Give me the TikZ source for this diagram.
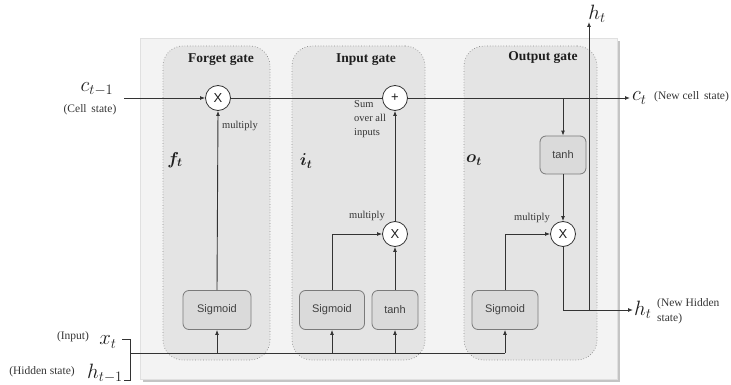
\documentclass[tikz,border=0pt]{standalone}
\usepackage{fontspec}
\setmainfont{Liberation Serif}
\setsansfont{Liberation Sans}
\usepackage{amsmath,bm}
\usetikzlibrary{arrows.meta}
\definecolor{panelfill}{HTML}{F3F3F3}
\definecolor{paneledge}{HTML}{E0E0E0}
\definecolor{shadowc}{HTML}{C4C4C4}
\definecolor{gatefill}{HTML}{E4E4E4}
\definecolor{gateedge}{HTML}{8E8E8E}
\definecolor{boxfill}{HTML}{DADADA}
\definecolor{boxedge}{HTML}{7A7A7A}
\definecolor{linec}{HTML}{333333}
\definecolor{txtc}{HTML}{1E1E1E}
\tikzset{
  gatebox/.style={draw=gateedge, fill=gatefill, dotted, line width=0.7pt, rounded corners=20pt, inner sep=0pt},
  fnbox/.style={draw=boxedge, fill=boxfill, line width=0.8pt, rounded corners=6pt, inner sep=0pt, font=\sffamily\fontsize{11}{12}\selectfont, text=txtc!85},
  opcirc/.style={draw=linec, fill=white, line width=0.8pt, circle, minimum size=25pt, inner sep=0pt, font=\sffamily\fontsize{13}{13}\selectfont, text=txtc},
  wire/.style={draw=linec, line width=0.9pt},
  arr/.style={wire, -{Latex[length=5pt,width=4pt]}},
  title/.style={font=\bfseries\fontsize{13.5}{14}\selectfont, text=txtc},
  small/.style={font=\fontsize{10.5}{14}\selectfont, text=txtc!90, inner sep=0pt},
  ext/.style={font=\fontsize{11.5}{15}\selectfont, text=txtc!90, inner sep=0pt},
  mathlbl/.style={font=\fontsize{20}{20}\selectfont, text=txtc, inner sep=0pt},
  gatelbl/.style={font=\fontsize{18}{18}\selectfont, text=txtc, inner sep=0pt},
}
\begin{document}
\begin{tikzpicture}[x=1pt,y=-1pt]
\useasboundingbox (0,0) rectangle (731,385);
% outer panel with shadow
\node[fill=shadowc, minimum width=477, minimum height=341, inner sep=0pt] (shadow) at (381.5,211.5) {};
\node[fill=panelfill, draw=paneledge, minimum width=477, minimum height=341, inner sep=0pt] (panel) at (378.5,208.5) {};
% gate boxes
\node[gatebox, minimum width=107, minimum height=314] (fg) at (216.5,203) {};
\node[gatebox, minimum width=133, minimum height=314] (ig) at (358.5,203) {};
\node[gatebox, minimum width=133, minimum height=314] (og) at (530.5,203) {};
% titles
\node[title] (tf) at (221,60) {Forget gate};
\node[title] (ti) at (366,60) {Input gate};
\node[title] (to) at (543,58) {Output gate};
% gate symbols
\node[gatelbl] (ft) at (175,160) {$\bm{f}_{\bm{t}}$};
\node[gatelbl] (it) at (306,161) {$\bm{i}_{\bm{t}}$};
\node[gatelbl] (ot) at (474,160) {$\bm{o}_{\bm{t}}$};
% operators
\node[opcirc] (fx) at (218,98) {X};
\node[opcirc] (plus) at (395,98) {+};
\node[opcirc] (ix) at (395,234) {X};
\node[opcirc] (ox) at (563,234) {X};
% function boxes
\node[fnbox, minimum width=68, minimum height=39] (fsig) at (217,310) {Sigmoid};
\node[fnbox, minimum width=65, minimum height=39] (isig) at (332,310) {Sigmoid};
\node[fnbox, minimum width=46, minimum height=39] (itanh) at (395,310) {tanh};
\node[fnbox, minimum width=66, minimum height=39] (osig) at (505,310) {Sigmoid};
\node[fnbox, minimum width=46, minimum height=38] (otanh) at (563,155) {tanh};
% small labels
\node[small, anchor=west] (mf) at (222,126) {multiply};
\node[small] (mi) at (367,216) {multiply};
\node[small] (mo) at (532,218) {multiply};
\node[small, anchor=north west, align=left] (sum) at (354,100) {Sum\\over all\\inputs};
% external labels
\node[mathlbl] (cprev) at (97,89) {$c_{t-1}$};
\node[ext] (cprevt) at (90,110) {(Cell\, state)};
\node[mathlbl, anchor=west] (cnew) at (632,98) {$c_t$};
\node[ext, anchor=west] (cnewt) at (654,97) {(New cell\, state)};
\node[mathlbl] (htop) at (597,14) {$h_t$};
\node[mathlbl, anchor=west] (hnew) at (634,310) {$h_t$};
\node[ext, anchor=north west, align=left] (hnewt) at (657,298) {(New Hidden\\state)};
\node[mathlbl] (xt) at (108,342) {$x_t$};
\node[ext] (xtt) at (73,337) {(Input)};
\node[mathlbl] (hprev) at (105,373) {$h_{t-1}$};
\node[ext] (hprevt) at (42,372) {(Hidden state)};
% coordinates
\coordinate (cin) at (124,98);
\coordinate (cout) at (630,98);
\coordinate (tap) at (563,98);
\coordinate (hj) at (589,310);
\coordinate (hout) at (633,310);
\coordinate (htopend) at (589,22);
\coordinate (xtend) at (122,339);
\coordinate (bx1) at (130,339);
\coordinate (bx2) at (130,380);
\coordinate (hpend) at (124,380);
\coordinate (brk) at (130,353);
\coordinate (busend) at (505,353);
% cell state line
\draw[arr] (cin) -- (fx.west);
\draw[wire] (fx.east) -- (plus.west);
\draw[arr] (plus.east) -- (cout);
% forget gate
\draw[arr] (fsig.north) -- (fx.south);
% input gate
\draw[arr] (isig.north) |- (ix.west);
\draw[arr] (itanh.north) -- (ix.south);
\draw[arr] (ix.north) -- (plus.south);
% output gate
\draw[arr] (tap) -- (otanh.north);
\draw[arr] (otanh.south) -- (ox.north);
\draw[arr] (osig.north) |- (ox.west);
\draw[arr] (ox.south) |- (hout);
\draw[arr] (hj) -- (htopend);
% inputs
\draw[wire] (xtend) -- (bx1) -- (bx2) -- (hpend);
\draw[wire] (brk) -- (busend);
\draw[arr] (fsig.south |- brk) -- (fsig.south);
\draw[arr] (isig.south |- brk) -- (isig.south);
\draw[arr] (itanh.south |- brk) -- (itanh.south);
\draw[arr] (osig.south |- brk) -- (osig.south);
\end{tikzpicture}
\end{document}
